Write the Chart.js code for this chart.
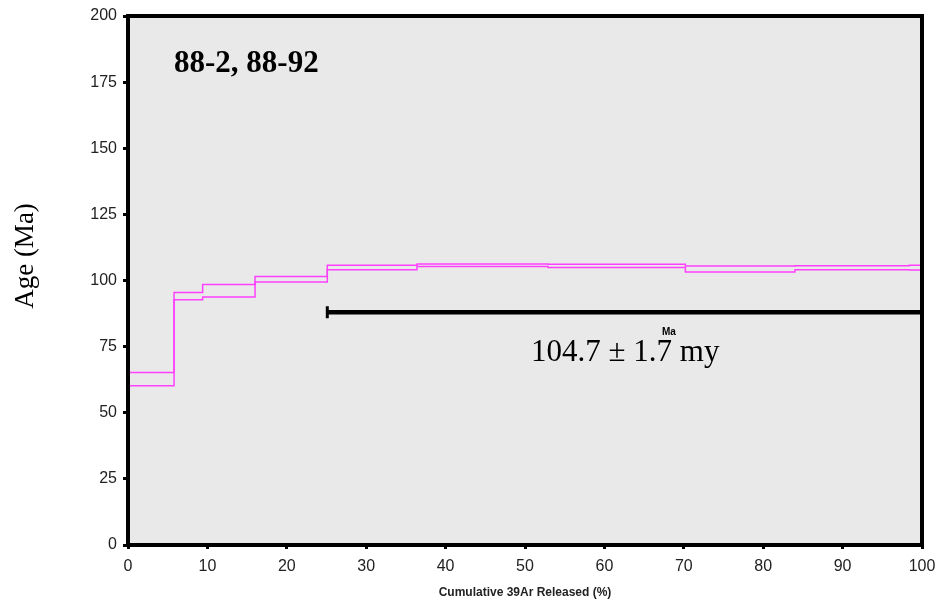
<!DOCTYPE html>
<html>
<head>
<meta charset="utf-8">
<script src="https://cdn.jsdelivr.net/npm/chart.js@4/dist/chart.umd.min.js"></script>
<style>
  html, body { margin: 0; padding: 0; background: #fff; }
  #wrap { width: 938px; height: 600px; position: relative; }
</style>
</head>
<body>
<div id="wrap"><canvas id="spectrum"></canvas></div>
<script>
// ===== Dados do espectro (limites em % de 39Ar, idade min/max em Ma)
const stepEdges = [0, 5.8, 9.4, 16.0, 25.1, 36.4, 52.9, 70.2, 84.0, 98.4, 100];
const ageLow    = [60.2, 92.7, 93.8, 99.4, 104.1, 105.3, 104.9, 103.2, 104.1, 104.0];
const ageHigh   = [65.2, 95.5, 98.5, 101.5, 105.8, 106.2, 106.1, 105.5, 105.6, 105.8];

// platô
const plateauX   = [25.1, 100];
const plateauAge = 88.0;

const xTicks = [0, 10, 20, 30, 40, 50, 60, 70, 80, 90, 100];
const yTicks = [0, 25, 50, 75, 100, 125, 150, 175, 200];

const sampleLabel  = '88-2, 88-92';
const plateauLabel = '104.7 ± 1.7 my';
const xTitle = 'Cumulative 39Ar Released (%)';
const yTitle = 'Age (Ma)';

// ===== Envelopes em degrau (último ponto fecha em 100%)
function stepLine(values) {
  const pts = values.map((v, i) => ({x: stepEdges[i], y: v}));
  pts.push({x: stepEdges[stepEdges.length - 1], y: values[values.length - 1]});
  return pts;
}
const plateau = plateauX.map(x => ({x, y: plateauAge}));

// fundo cinza + moldura + textos
const decor = {
  id: 'decor',
  beforeDatasetsDraw(chart) {
    const {ctx, chartArea: a} = chart;
    ctx.save();
    ctx.fillStyle = '#e9e9e9';
    ctx.fillRect(a.left, a.top, a.right - a.left, a.bottom - a.top);
    ctx.restore();
  },
  afterDatasetsDraw(chart) {
    const {ctx, chartArea: a} = chart;
    ctx.save();
    ctx.strokeStyle = '#000';
    ctx.lineWidth = 4;
    ctx.strokeRect(a.left, a.top, a.right - a.left, a.bottom - a.top);

    ctx.fillStyle = '#000';
    ctx.textBaseline = 'alphabetic';
    ctx.textAlign = 'left';
    ctx.font = 'bold 31px "Liberation Serif"';
    ctx.fillText(sampleLabel, 174, 72);

    ctx.font = '31px "Liberation Serif"';
    ctx.fillText(plateauLabel, 531, 361);
    ctx.font = 'bold 10px "Liberation Sans"';
    ctx.fillText('Ma', 662, 335);

    // título do eixo y
    ctx.translate(33, 256);
    ctx.rotate(-Math.PI / 2);
    ctx.textAlign = 'center';
    ctx.font = '27px "Liberation Serif"';
    ctx.fillText(yTitle, 0, 0);
    ctx.restore();
  }
};

const lineStyle = {
  borderColor: '#ff40ff',
  borderWidth: 1.5,
  pointRadius: 0,
  stepped: true,
  tension: 0
};

new Chart(document.getElementById('spectrum'), {
  type: 'line',
  data: {
    datasets: [
      { label: 'max', data: stepLine(ageHigh), ...lineStyle },
      { label: 'min', data: stepLine(ageLow),  ...lineStyle },
      {
        label: 'plateau',
        data: plateau,
        borderColor: '#000',
        borderWidth: 4.5,
        pointStyle: 'line',
        rotation: 90,
        pointRadius: [6, 0],
        pointBorderWidth: 3,
        pointBorderColor: '#000',
        tension: 0
      }
    ]
  },
  options: {
    responsive: true,
    maintainAspectRatio: false,
    animation: false,
    layout: { padding: { top: 16, right: 16, left: 0, bottom: 0 } },
    plugins: { legend: { display: false }, tooltip: { enabled: false } },
    scales: {
      x: {
        type: 'linear', min: 0, max: 100,
        afterFit: s => { s.height = 55; s.paddingLeft = 0; s.paddingRight = 0; },
        afterBuildTicks: s => { s.ticks = xTicks.map(v => ({value: v})); },
        grid: { drawOnChartArea: false, drawTicks: true, tickLength: 4, tickWidth: 3, tickColor: '#000' },
        border: { display: false },
        ticks: { color: '#222', padding: 8, maxRotation: 0, font: { family: '"Liberation Sans"', size: 16 } },
        title: { display: true, text: xTitle, color: '#222', padding: { top: 2, bottom: 0 },
                 font: { family: '"Liberation Sans"', size: 12, weight: 'bold' } }
      },
      y: {
        type: 'linear', min: 0, max: 200,
        afterFit: s => { s.width = 128; },
        afterBuildTicks: s => { s.ticks = yTicks.map(v => ({value: v})); },
        grid: { drawOnChartArea: false, drawTicks: true, tickLength: 5, tickWidth: 3, tickColor: '#000' },
        border: { display: false },
        ticks: { color: '#222', padding: 6, font: { family: '"Liberation Sans"', size: 16 } }
      }
    }
  },
  plugins: [decor]
});
</script>
</body>
</html>
